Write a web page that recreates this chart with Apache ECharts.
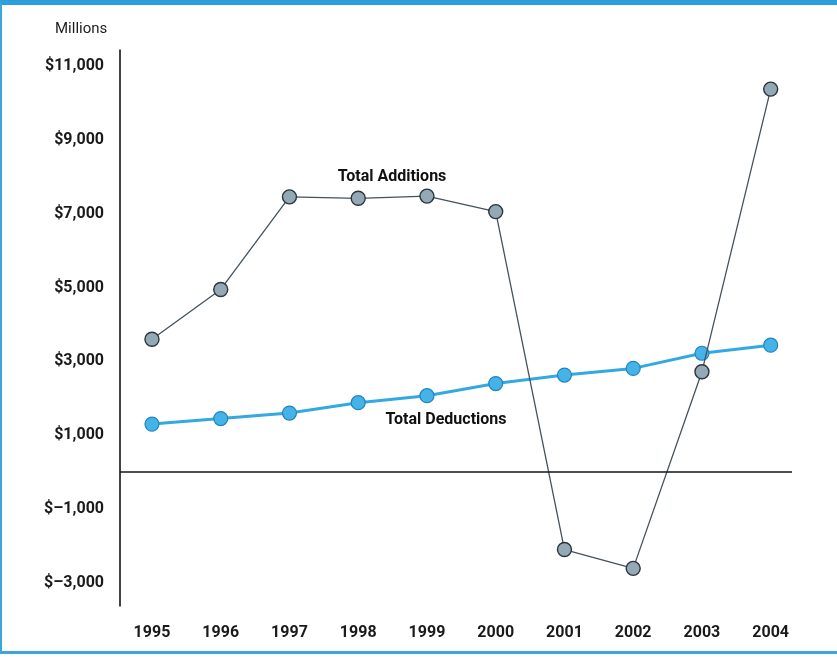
<!DOCTYPE html>
<html>
<head>
<meta charset="utf-8">
<script src="https://cdn.jsdelivr.net/npm/echarts@6/dist/echarts.min.js"></script>
<style>
  html, body { margin: 0; padding: 0; background: #fff; }
  #chart { position: absolute; left: 0; top: 0; width: 837px; height: 657px; }
  #frame {
    position: absolute; left: 0; top: 0; width: 837px; height: 654px;
    box-sizing: border-box; pointer-events: none;
    border-top: 5px solid #2a9fd9; border-left: 2px solid #3aa6dc; border-bottom: 3px solid #3aa6dc;
  }
</style>
</head>
<body>
<div id="chart"></div>
<div id="frame"></div>
<script>
// values, millions of dollars
const years = [1995, 1996, 1997, 1998, 1999, 2000, 2001, 2002, 2003, 2004];
const totalAdditions = [3600, 4950, 7460, 7420, 7480, 7060, -2100, -2610, 2720, 10380];
const totalDeductions = [1300, 1450, 1600, 1880, 2070, 2400, 2630, 2810, 3220, 3440];
const yTicks = [-3000, -1000, 1000, 3000, 5000, 7000, 9000, 11000];

const FONT = 'Roboto, "Liberation Sans", sans-serif';

function money(v) {
  return '$' + (v < 0 ? '\u2013' : '') + Math.abs(v).toLocaleString('en-US');
}

const pairs = arr => arr.map((v, i) => [years[i], v]);

const chart = echarts.init(document.getElementById('chart'), null, { renderer: 'canvas' });

const option = {
  animation: false,
  backgroundColor: '#ffffff',
  grid: { left: 120, right: 45, top: 50, bottom: 51, containLabel: false },
  xAxis: {
    type: 'value',
    min: 1994.535,
    max: 2004.31,
    axisLine: { show: false },
    axisTick: { show: false },
    splitLine: { show: false },
    axisLabel: {
      customValues: years,
      formatter: v => String(v),
      margin: 19,
      color: '#1a1a1a',
      fontFamily: FONT,
      fontSize: 16,
      fontWeight: 'bold'
    }
  },
  yAxis: {
    type: 'value',
    min: -3630,
    max: 11440,
    axisLine: { show: true, onZero: false, lineStyle: { color: '#141414', width: 1.6 } },
    axisTick: { show: false },
    splitLine: { show: false },
    axisLabel: {
      customValues: yTicks,
      formatter: money,
      margin: 16,
      color: '#1a1a1a',
      fontFamily: FONT,
      fontSize: 16,
      fontWeight: 'bold'
    }
  },
  series: [
    {
      name: 'Total Deductions',
      type: 'line',
      data: pairs(totalDeductions),
      symbol: 'circle',
      symbolSize: 14,
      z: 3,
      lineStyle: { color: '#33a9e1', width: 3 },
      itemStyle: { color: '#45b2e8', borderColor: '#1f86bd', borderWidth: 1.2 }
    },
    {
      name: 'Total Additions',
      type: 'line',
      data: pairs(totalAdditions),
      symbol: 'circle',
      symbolSize: 14,
      z: 4,
      lineStyle: { color: '#44525c', width: 1.3 },
      itemStyle: { color: '#93a9b6', borderColor: '#2b353b', borderWidth: 1.4 },
      markLine: {
        silent: true,
        symbol: 'none',
        label: { show: false },
        lineStyle: { color: '#141414', width: 1.6, type: 'solid' },
        data: [{ yAxis: 0 }]
      }
    }
  ],
  graphic: [
    {
      type: 'text', left: 55, top: 22,
      style: { text: 'Millions', fill: '#1c1c1c', font: '15px ' + FONT }
    },
    {
      type: 'text', x: 392, y: 177,
      style: { text: 'Total Additions', fill: '#111', font: 'bold 16px ' + FONT, align: 'center', verticalAlign: 'middle' }
    },
    {
      type: 'text', x: 446, y: 420,
      style: { text: 'Total Deductions', fill: '#111', font: 'bold 16px ' + FONT, align: 'center', verticalAlign: 'middle' }
    }
  ]
};

chart.setOption(option);
</script>
</body>
</html>
